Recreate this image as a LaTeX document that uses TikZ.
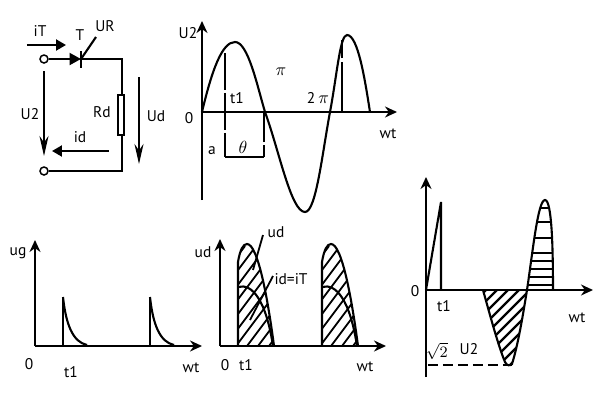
\documentclass[tikz,border=0pt]{standalone}
\usepackage{fontspec}
\setmainfont{PT Sans}
\usetikzlibrary{arrows.meta}
\tikzset{
	lbl/.style={inner sep=0pt,font=\fontsize{8.8}{9}\selectfont},
	axis/.style={-{Stealth[length=0.24cm,width=0.22cm]},line width=0.048cm},
	curve/.style={line width=0.042cm},
	arrowline/.style={-{Stealth[length=0.4cm,width=0.18cm]},line width=0.045cm},
	hatchline/.style={line width=0.036cm},
	terminal/.style={circle,draw,line width=0.03cm,inner sep=0pt,minimum size=0.16cm}
}

\begin{document}
\begin{tikzpicture}[x=0.02cm,y=-0.02cm,line width=0.042cm]
	\useasboundingbox (0,0) rectangle (600,400);

	%CIRCUIT
	\node[terminal] (inA) at (44,59) {};
	\node[terminal] (inB) at (44,171) {};
	\node[draw,line width=0.03cm,inner sep=0pt,minimum width=0.12cm,minimum height=0.8cm] (rd) at (121,115) {};
	\coordinate (cath) at (81,59);
	\coordinate (gate) at (96,37);
	\coordinate (topR) at (122,59);
	\coordinate (botR) at (122,171);
	\draw[-{Stealth[length=0.23cm,width=0.24cm,inset=0pt]}] (inA) -- (cath);
	\draw (cath) -- (topR) -- (rd.north -| topR);
	\draw (rd.south -| topR) -- (botR) -- (inB);
	\draw (81,51) -- (81,68); %bar
	\draw (cath) -- (gate);
	%arrows
	\coordinate (iTa) at (27,45);	\coordinate (iTb) at (66,45);
	\coordinate (U2a) at (44,71);	\coordinate (U2b) at (44,156);
	\coordinate (Uda) at (139,77);	\coordinate (Udb) at (139,164);
	\coordinate (ida) at (109,151);	\coordinate (idb) at (52,151);
	\draw[-{Stealth[length=0.2cm,width=0.22cm,inset=0pt]}] (iTa) -- (iTb);
	\draw[arrowline] (U2a) -- (U2b);
	\draw[arrowline] (Uda) -- (Udb);
	\draw[-{Stealth[length=0.2cm,width=0.22cm,inset=0pt]}] (ida) -- (idb);
	\node[lbl] (lbliT) at (40,31) {iT};
	\node[lbl] (lblT) at (80,35) {T};
	\node[lbl] (lblUR) at (105,26) {UR};
	\node[lbl] (lblU2) at (30,114) {U2};
	\node[lbl] (lblRd) at (102,112) {Rd};
	\node[lbl] (lblUd) at (156,116) {Ud};
	\node[lbl] (lblid) at (80,137) {id};

	%SUPPLY WAVE
	\coordinate (oA) at (202,112);
	\draw[axis] (202,200) -- (202,21);
	\draw[axis] (oA) -- (397,112);
	\draw[curve] (oA) .. controls (212,70) and (222,42) .. (235,42) .. controls (248,42) and (257,85) .. (265,112);
	\draw[curve] (265,112) .. controls (279,150) and (291,212) .. (305,212) .. controls (316,212) and (322,155) .. (330,112);
	\draw[curve] (330,112) .. controls (337,75) and (340,35) .. (347,35) .. controls (358,35) and (365,80) .. (370,112);
	\draw[dash pattern=on 0.74cm off 0.06cm] (225,53) -- (225,157);
	\draw (225,157) -- (264,157);
	\draw[dash pattern=on 0.24cm off 0.06cm on 0.6cm off 0cm] (264,157) -- (264,112);
	\draw[dash pattern=on 1cm off 0.08cm] (342,112) -- (342,40);
	\node[lbl] (lblU2a) at (188,33) {U2};
	\node[lbl] (lblzeroA) at (189,118) {0};
	\node[lbl] (lblta) at (237,98) {t1};
	\node[lbl] (lblpi) at (281,72) {\fontsize{10}{10}\selectfont$\pi$};
	\node[lbl] (lbltwopi) at (318,98) {2\fontsize{10}{10}\selectfont$\,\pi$};
	\node[lbl] (lblwta) at (388,134) {wt};
	\node[lbl] (lbla) at (212,151) {a};
	\node[lbl] (lbltheta) at (243,147) {\fontsize{10}{10}\selectfont$\theta$};

	%TRIGGER PULSES
	\draw[axis] (35,346) -- (35,240);
	\draw[axis] (35,346) -- (202,346);
	\foreach \px in {63,150} {
		\draw[line width=0.05cm] (\px,346) -- (\px,297);
		\draw[curve] (\px,297) .. controls (\px+3,325) and (\px+10,342) .. (\px+24,345);
	}
	\node[lbl] (lblug) at (18,253) {ug};
	\node[lbl] (lblzeroB) at (29,364) {0};
	\node[lbl] (lbltb) at (71,372) {t1};
	\node[lbl] (lblwtb) at (191,368) {wt};

	%LOAD VOLTAGE
	\foreach \sh in {0,84} {
		\begin{scope}[xshift=\sh*0.02cm]
			\begin{scope}
				\clip (238,346) -- (238,262) .. controls (240,250) and (243,244) .. (247,244) .. controls (258,244) and (268,300) .. (274,346) -- cycle;
				\foreach \hx in {170,181,...,280} {
					\draw[hatchline] (\hx,346) -- ++(75,-100);
				}
			\end{scope}
			\draw[curve] (238,346) -- (238,262) .. controls (240,250) and (243,244) .. (247,244) .. controls (258,244) and (268,300) .. (274,346);
			\draw[curve] (238,287) .. controls (252,283) and (266,300) .. (273,346);
		\end{scope}
	}
	\draw[axis] (220,346) -- (220,239);
	\draw[axis] (220,346) -- (386,346);
	\coordinate (udA) at (263,235);	\coordinate (udB) at (253,270);
	\coordinate (idA) at (273,276);	\coordinate (idB) at (250,320);
	\draw[hatchline] (udA) -- (udB);
	\draw[hatchline] (idA) -- (idB);
	\node[lbl] (lblud) at (276,232) {ud};
	\node[lbl] (lblidT) at (291,279) {id=iT};
	\node[lbl] (lbludb) at (203,252) {ud};
	\node[lbl] (lblzeroC) at (225,365) {0};
	\node[lbl] (lbltc) at (246,365) {t1};
	\node[lbl] (lblwtc) at (365,367) {wt};

	%THYRISTOR VOLTAGE
	\begin{scope}
		\clip (483,290) .. controls (490,315) and (498,345) .. (505,362) .. controls (507,366) and (510,366) .. (512,364) .. controls (518,345) and (523,315) .. (527,290) -- cycle;
		\foreach \hx in {400,411,...,530} {
			\draw[line width=0.045cm] (\hx,365) -- ++(80,-80);
		}
	\end{scope}
	\begin{scope}
		\clip (527,290) .. controls (533,250) and (538,200) .. (545,200) .. controls (552,200) and (553,250) .. (553,290) -- cycle;
		\foreach \hy in {285,277,269,261,253,238,222,208} {
			\draw[line width=0.05cm] (520,\hy) -- (560,\hy);
		}
	\end{scope}
	\draw[curve] (483,290) .. controls (490,315) and (498,345) .. (505,362) .. controls (507,366) and (510,366) .. (512,364) .. controls (518,345) and (523,315) .. (527,290);
	\draw[curve] (527,290) .. controls (533,250) and (538,200) .. (545,200) .. controls (552,200) and (553,250) .. (553,290);
	\draw[curve] (426,290) -- (441,202) -- (441,290);
	\draw[axis] (426,377) -- (426,177);
	\draw[axis] (426,290) -- (593,290);
	\coordinate (peakA) at (428,365);
	\coordinate (peakB) at (512,365);
	\draw[dash pattern=on 0.2cm off 0.1cm] (peakA) -- (peakB);
	\node[lbl] (lblzeroD) at (415,291) {0};
	\node[lbl] (lbltd) at (444,306) {t1};
	\node[lbl] (lblwtd) at (577,318) {wt};
	\node[lbl] (lblroot) at (437,351) {$\sqrt{2}$};
	\node[lbl] (lblU2d) at (469,349) {U2};
\end{tikzpicture}
\end{document}
